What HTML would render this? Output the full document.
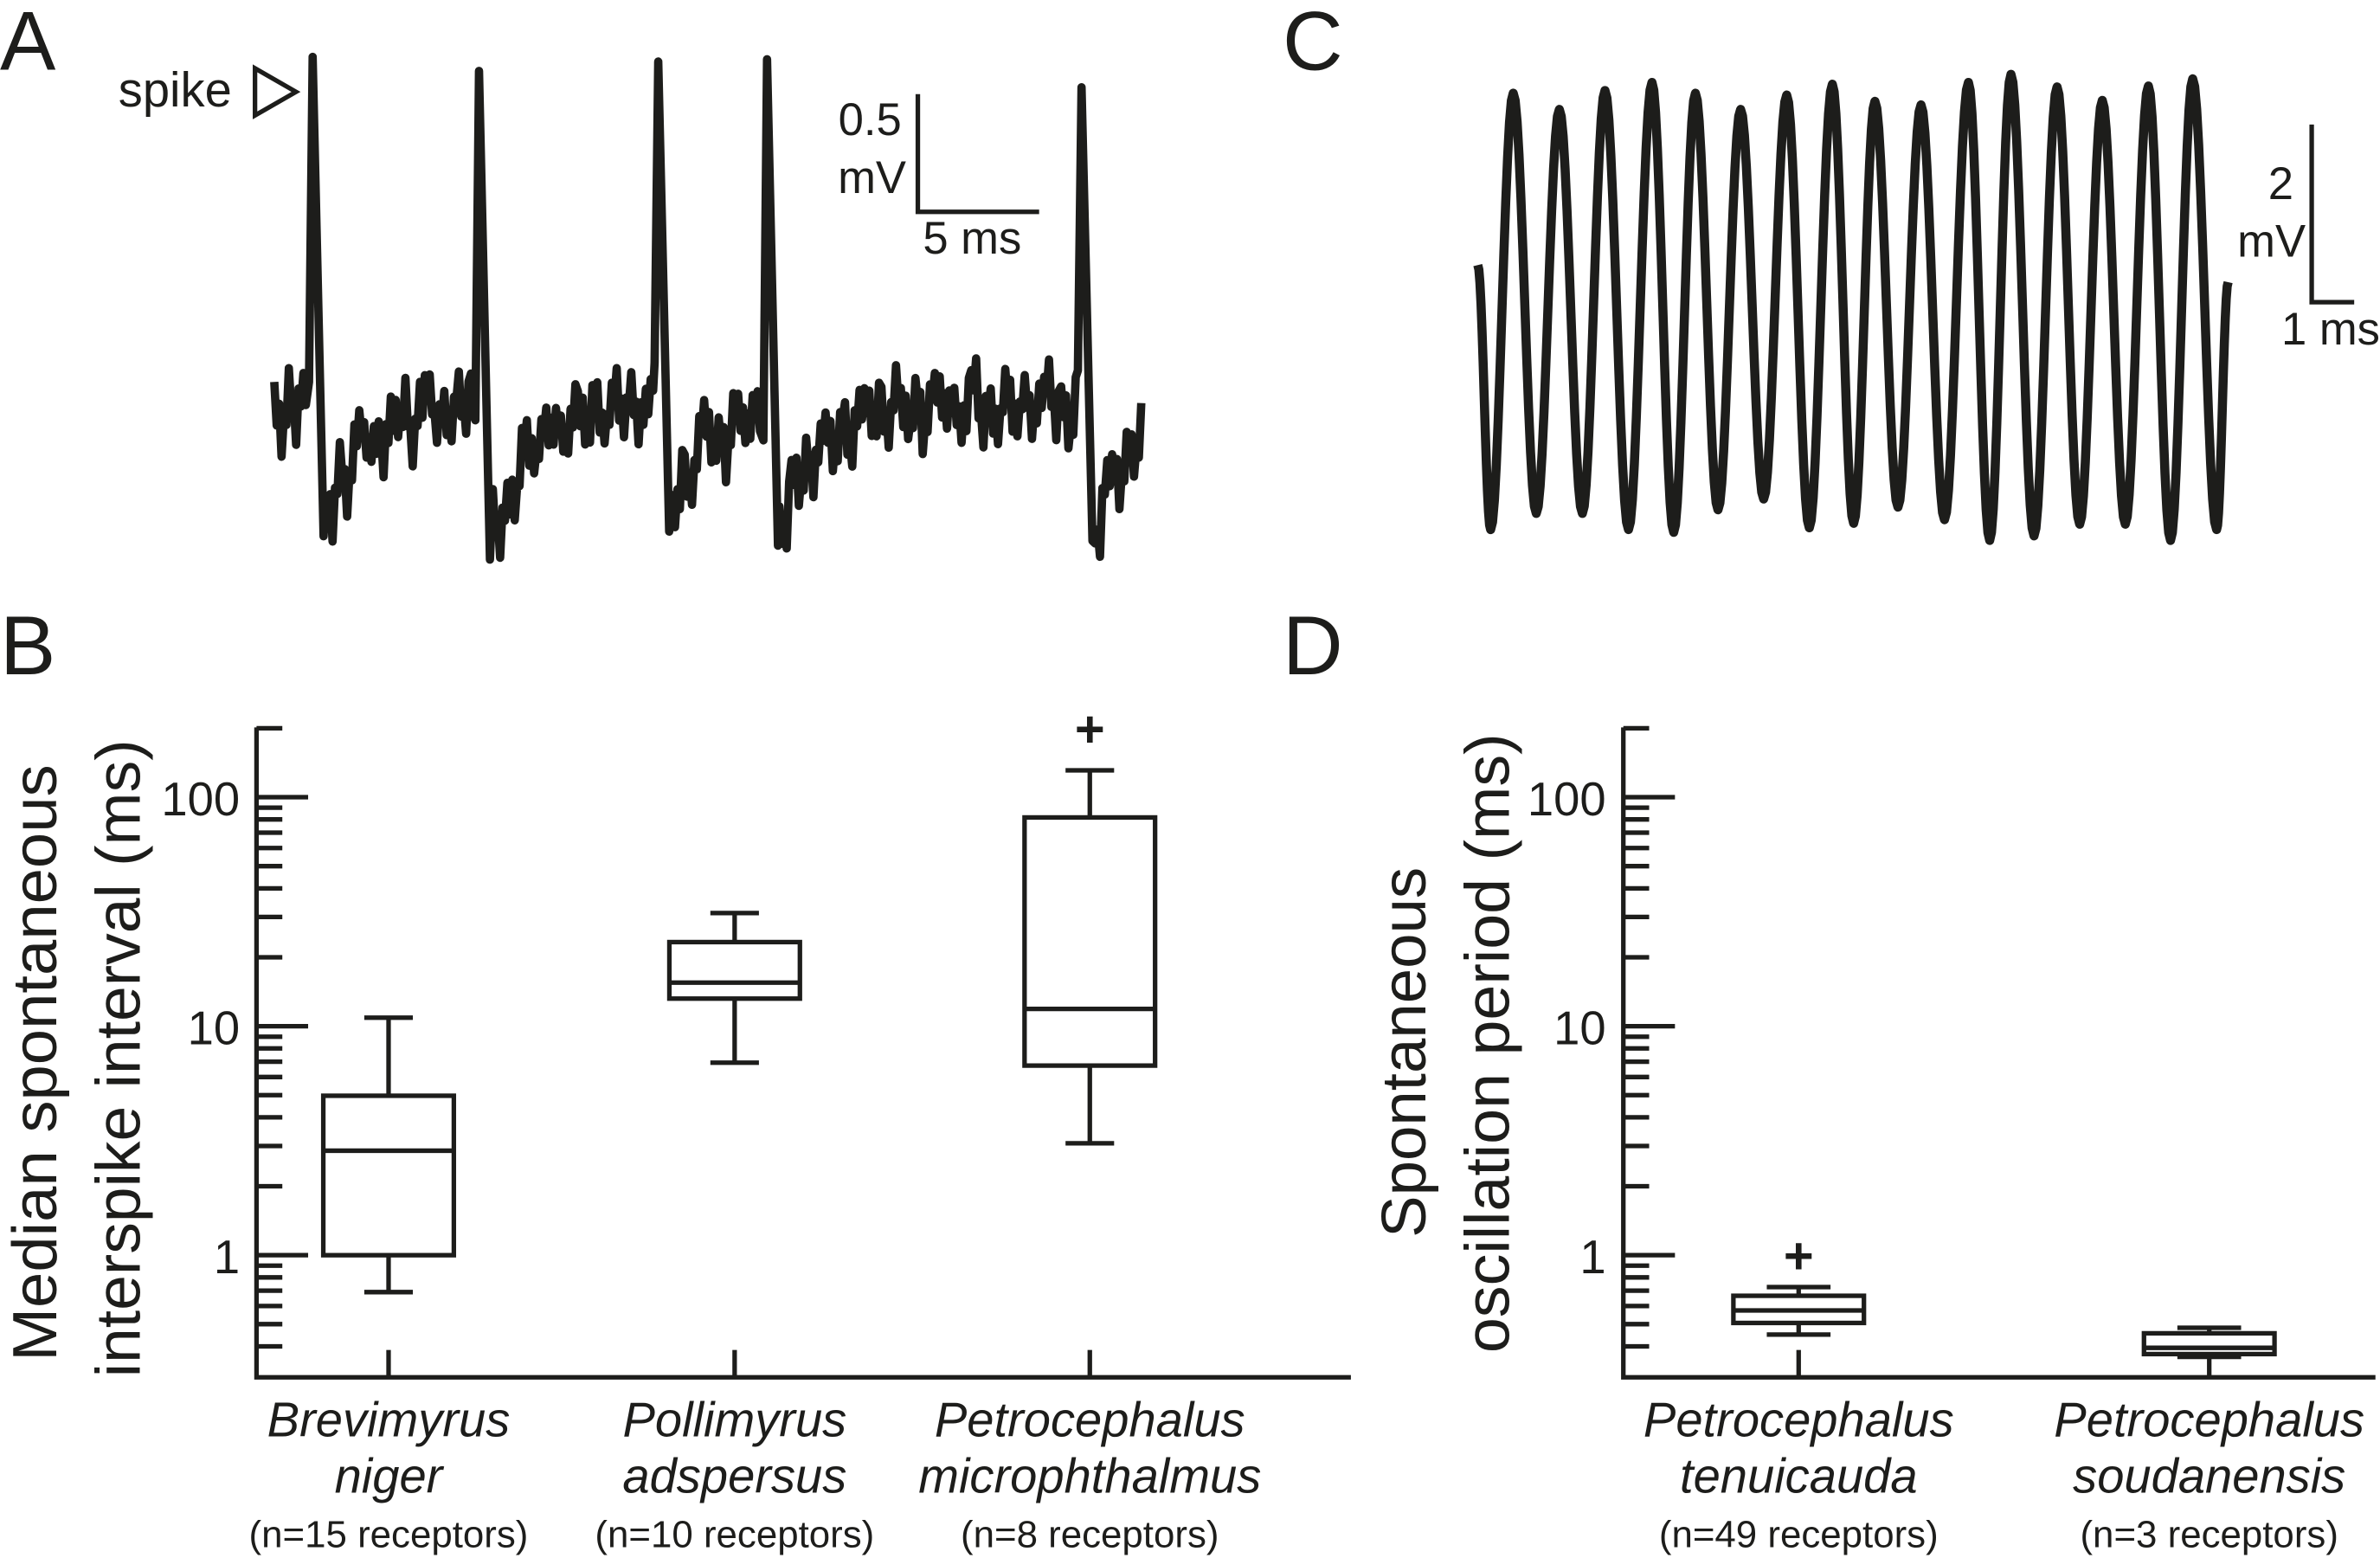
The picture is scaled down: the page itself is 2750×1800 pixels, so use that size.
<!DOCTYPE html>
<html><head><meta charset="utf-8">
<style>
html,body{margin:0;padding:0;background:#fff;}
svg{display:block;}
text{font-family:"Liberation Sans",Arial,sans-serif;fill:#1d1d1b;}
</style></head>
<body>
<svg id="fig" width="2750" height="1800" viewBox="0 0 1568 1026" preserveAspectRatio="none" xmlns="http://www.w3.org/2000/svg">
<rect width="1568" height="1026" fill="#fff"/>
<text x="0" y="46" font-size="55">A</text>
<text x="0" y="444" font-size="55">B</text>
<text x="845" y="46" font-size="55">C</text>
<text x="845" y="444" font-size="55">D</text>

<text x="78" y="70" font-size="32">spike</text>
<polygon points="168,45 168,76 195,60.5" fill="none" stroke="#1d1d1b" stroke-width="3"/>
<g>
<path d="M604.7,62 V139.5 H684.6" fill="none" stroke="#1d1d1b" stroke-width="3"/>
<text x="594" y="89" font-size="30" text-anchor="end">0.5</text>
<text x="597" y="127" font-size="30" text-anchor="end">mV</text>
<text x="608" y="167" font-size="30">5 ms</text>
</g>
<g>
<path d="M1523,82 V199 H1551" fill="none" stroke="#1d1d1b" stroke-width="3"/>
<text x="1511" y="131" font-size="30" text-anchor="end">2</text>
<text x="1519" y="169" font-size="30" text-anchor="end">mV</text>
<text x="1503" y="227" font-size="30">1 ms</text>
</g>
<g id="traces"></g>
<g id="panelB"></g>
<g id="panelD"></g>
</svg>
<script>
// ---------- Panel A data ----------
const spikeTimes = [1.58, 8.43, 15.81, 20.29, 33.24];      // ms
const spikePeaks = [1.51, 1.45, 1.49, 1.50, 1.38];        // mV
const spikeTroughs = [-0.54, -0.64, -0.52, -0.58, -0.56]; // mV
const traceDuration = 35.77; // ms
const baselineNoise = [0.05,-0.12,0.1,-0.08,0.14,0.02,-0.15,0.08,-0.05,0.12,-0.1,0.06,0.15,-0.07,0.03,-0.14,0.11,-0.02,0.09,-0.13,0.07,0.16,-0.06,0.04,-0.11,0.13,-0.03,0.1,-0.09,0.05,0.17,-0.08,0.02,-0.12,0.12,0.06,-0.1,0.14,-0.04,0.08,-0.13,0.1,0.03,-0.07,0.15,-0.11,0.05,0.11,-0.06,0.13,-0.09,0.04,0.16,-0.12,0.07,-0.02,0.12,-0.1,0.09,0.18,-0.05,0.03,-0.13,0.1,0.06,-0.08,0.14,-0.11,0.02,0.11,-0.07,0.15,-0.03,0.08,-0.12,0.13,0.01,-0.09,0.1,-0.14,0.06,0.12,-0.05,0.09,-0.1,0.15,0.03,-0.08,0.11,-0.12,0.07,0.14,-0.06,0.1,-0.11,0.04,0.17,-0.09,0.06,-0.13,0.12,0.02,-0.07,0.13,-0.1,0.08,0.15,-0.04,0.05,-0.12,0.11,-0.02,0.09,-0.14,0.14,0.03,-0.1,0.07,-0.06,0.1];
const fineJitter = [0.07,-0.06,0.09,-0.08,0.03,-0.09,0.08,-0.04,0.06,-0.07,0.1,-0.05,0.02,-0.08,0.07,-0.03,0.09,-0.1,0.05,-0.06,0.08,-0.02,0.06,-0.09,0.04,-0.07,0.1,-0.04,0.07,-0.08,0.03,-0.06,0.09,-0.05,0.06,-0.1,0.08];

// ---------- Panel C data ----------
const oscStartV = 0.48, oscEndV = 0.29, oscEndT = 16.93;
const peakTimes = [0.80,1.84,2.87,3.93,4.91,5.93,6.97,8.00,8.96,10.00,11.07,12.03,13.07,14.09,15.13,16.13];
const peakValues = [2.39,2.21,2.42,2.51,2.39,2.21,2.37,2.49,2.30,2.26,2.51,2.60,2.46,2.31,2.47,2.55];
const troughTimes = [0.29,1.32,2.36,3.40,4.42,5.42,6.45,7.48,8.48,9.48,10.53,11.55,12.55,13.58,14.61,15.63,16.67];
const troughValues = [-2.46,-2.28,-2.28,-2.46,-2.49,-2.24,-2.12,-2.44,-2.39,-2.21,-2.35,-2.58,-2.53,-2.40,-2.40,-2.58,-2.46];

// ---------- Panel B data ----------
const bCategories = [["Brevimyrus","niger","(n=15 receptors)"],["Pollimyrus","adspersus","(n=10 receptors)"],["Petrocephalus","microphthalmus","(n=8 receptors)"]];
const bWhiskerLow = [0.69, 6.93, 3.08];
const bQ1 = [1.0, 13.2, 6.73];
const bMedian = [2.86, 15.5, 11.9];
const bQ3 = [4.97, 23.3, 81.6];
const bWhiskerHigh = [10.9, 31.2, 131];
const bOutliers = [[], [], [200]];

// ---------- Panel D data ----------
const dCategories = [["Petrocephalus","tenuicauda","(n=49 receptors)"],["Petrocephalus","soudanensis","(n=3 receptors)"]];
const dWhiskerLow = [0.45, 0.36];
const dQ1 = [0.506, 0.37];
const dMedian = [0.574, 0.394];
const dQ3 = [0.665, 0.456];
const dWhiskerHigh = [0.726, 0.482];
const dOutliers = [[1.0], []];

const yTickLabels = ["1","10","100"];
const yTickValues = [1, 10, 100];

const NS = "http://www.w3.org/2000/svg";
const INK = "#1d1d1b";
function mk(tag, attrs, parent){
  const e = document.createElementNS(NS, tag);
  for (const k in attrs) e.setAttribute(k, attrs[k]);
  parent.appendChild(e);
  return e;
}

// ---- Trace A ----
const xA = t => 180.7 + t*16;
const yA = v => 270 - v*154;
function noiseAt(t, idx){
  const n = baselineNoise.length, dt = traceDuration/(n-1);
  const f = t/dt, i = Math.min(n-2, Math.floor(f)), r = f - i;
  return baselineNoise[i]*(1-r) + baselineNoise[i+1]*r + fineJitter[idx % fineJitter.length];
}
function recovery(t){
  let s = 0;
  for (let k=0;k<spikeTimes.length;k++){
    const d = t - spikeTimes[k] - 0.45;
    if (d >= 0) s += spikeTroughs[k]*Math.exp(-d/1.4);
  }
  return s;
}
const pts = [];
let idx = 0;
for (let step=0; step*0.1 <= traceDuration+1e-9; step++){
  const t = step*0.1;
  const inSpike = spikeTimes.some(s => t-s > -0.2 && t-s < 0.5);
  if (!inSpike) pts.push([t, noiseAt(t, idx++) + recovery(t)]);
}
spikeTimes.forEach((s,k)=>{
  pts.push([s-0.15, noiseAt(s-0.15, k*7)]);
  pts.push([s, spikePeaks[k]]);
  pts.push([s+0.45, spikeTroughs[k]]);
});
pts.sort((a,b)=>a[0]-b[0]);
const dA = pts.map((p,i)=>(i?"L":"M")+xA(p[0]).toFixed(2)+","+yA(p[1]).toFixed(2)).join("");
const traces = document.getElementById('traces');
const pA = mk('path', {d:dA, fill:'none', stroke:INK, 'stroke-width':5.5, 'stroke-linejoin':'round'}, traces);



// ---- Trace C ----
const xC = t => 973.6 + t*29.2;
const yC = v => 203 - v*59.25;
const ext = [[0, oscStartV]];
for (let i=0;i<troughTimes.length;i++){
  ext.push([troughTimes[i], troughValues[i]]);
  if (i < peakTimes.length) ext.push([peakTimes[i], peakValues[i]]);
}
ext.push([oscEndT, oscEndV]);
let dC = "M" + xC(ext[0][0]).toFixed(2) + "," + yC(ext[0][1]).toFixed(2);
for (let i=1;i<ext.length;i++){
  const [t0,v0] = ext[i-1], [t1,v1] = ext[i];
  for (let s=1;s<=12;s++){
    const r = s/12, w = (1-Math.cos(Math.PI*r))/2;
    dC += "L" + xC(t0+(t1-t0)*r).toFixed(2) + "," + yC(v0+(v1-v0)*w).toFixed(2);
  }
}
const pC = mk('path', {d:dC, fill:'none', stroke:INK, 'stroke-width':6, 'stroke-linejoin':'round'}, traces);



// ---- Box plots ----
const yLog = v => 826.6 - Math.log10(v)*150.8;
function drawPanel(g, axX, axRight, labelRight, catX, boxHalf, capHalf, cats, wl, q1, med, q3, wh, outl, titles, titleX, prefix){
  const axis = mk('path', {d:`M${axX},479 V907 H${axRight}`, fill:'none', stroke:INK, 'stroke-width':3}, g);
  
  
  yTickValues.forEach((v,i)=>{
    const t = mk('line', {x1:axX, x2:axX+34, y1:yLog(v), y2:yLog(v), stroke:INK, 'stroke-width':3}, g);
    
    
    const lb = mk('text', {x:labelRight, y:yLog(v)+12, 'font-size':31, 'text-anchor':'end'}, g);
    lb.textContent = yTickLabels[i];
    
    
  });
  const minors = [];
  for (const dec of [0.1, 1, 10, 100]) for (let m=2;m<=9;m++){
    const v = dec*m;
    if (v >= 0.39 && v <= 201) minors.push(v);
  }
  minors.forEach(v=>{
    const t = mk('line', {x1:axX, x2:axX+17, y1:yLog(v), y2:yLog(v), stroke:INK, 'stroke-width':3}, g);
    
    
  });
  cats.forEach((c,i)=>{
    const x = catX[i];
    const ct = mk('line', {x1:x, x2:x, y1:889, y2:907, stroke:INK, 'stroke-width':3}, g);
    
    
    const l1 = mk('text', {x:x, y:946, 'font-size':32, 'font-style':'italic', 'text-anchor':'middle'}, g);
    l1.textContent = c[0];
    
    
    const l2 = mk('text', {x:x, y:983, 'font-size':32, 'font-style':'italic', 'text-anchor':'middle'}, g);
    l2.textContent = c[1];
    
    
    const l3 = mk('text', {x:x, y:1019, 'font-size':25, 'text-anchor':'middle'}, g);
    l3.textContent = c[2];
    
    
    const bg = mk('g', {}, g);
    
    
    const st = {stroke:INK, 'stroke-width':3, fill:'none'};
    mk('line', Object.assign({x1:x, x2:x, y1:yLog(wh[i]), y2:yLog(q3[i])}, st), bg);
    mk('line', Object.assign({x1:x, x2:x, y1:yLog(q1[i]), y2:yLog(wl[i])}, st), bg);
    mk('line', Object.assign({x1:x-capHalf, x2:x+capHalf, y1:yLog(wh[i]), y2:yLog(wh[i])}, st), bg);
    mk('line', Object.assign({x1:x-capHalf, x2:x+capHalf, y1:yLog(wl[i]), y2:yLog(wl[i])}, st), bg);
    mk('rect', {x:x-boxHalf, width:2*boxHalf, y:yLog(q3[i]), height:yLog(q1[i])-yLog(q3[i]), fill:'#fff', stroke:INK, 'stroke-width':3}, bg);
    mk('line', Object.assign({x1:x-boxHalf, x2:x+boxHalf, y1:yLog(med[i]), y2:yLog(med[i])}, st), bg);
    outl[i].forEach(v=>{
      const o = mk('text', {x:x, y:yLog(v)+12, 'font-size':34, 'font-weight':'bold', 'text-anchor':'middle'}, bg);
      o.textContent = "+";
      
      
    });
  });
  titles.forEach((tt,i)=>{
    const [bx, cy, len] = titleX[i];
    const t = mk('text', {x:0, y:0, 'font-size':41, 'text-anchor':'middle', transform:`translate(${bx},${cy}) rotate(-90)`, textLength:len, lengthAdjust:'spacingAndGlyphs'}, g);
    t.textContent = tt;
    
    
  });
}
const gB = document.getElementById('panelB');


drawPanel(gB, 169, 890, 158, [256, 484, 718], 43, 16, bCategories, bWhiskerLow, bQ1, bMedian, bQ3, bWhiskerHigh, bOutliers,
  ["Median spontaneous", "interspike interval (ms)"], [[37, 700, 393], [92, 697, 420]], 'b');
const gD = document.getElementById('panelD');


drawPanel(gD, 1069.5, 1565, 1058, [1185, 1455.5], 43, 21, dCategories, dWhiskerLow, dQ1, dMedian, dQ3, dWhiskerHigh, dOutliers,
  ["Spontaneous", "oscillation period (ms)"], [[939, 693, 244], [994, 687, 408]], 'd');
</script>
</body></html>
